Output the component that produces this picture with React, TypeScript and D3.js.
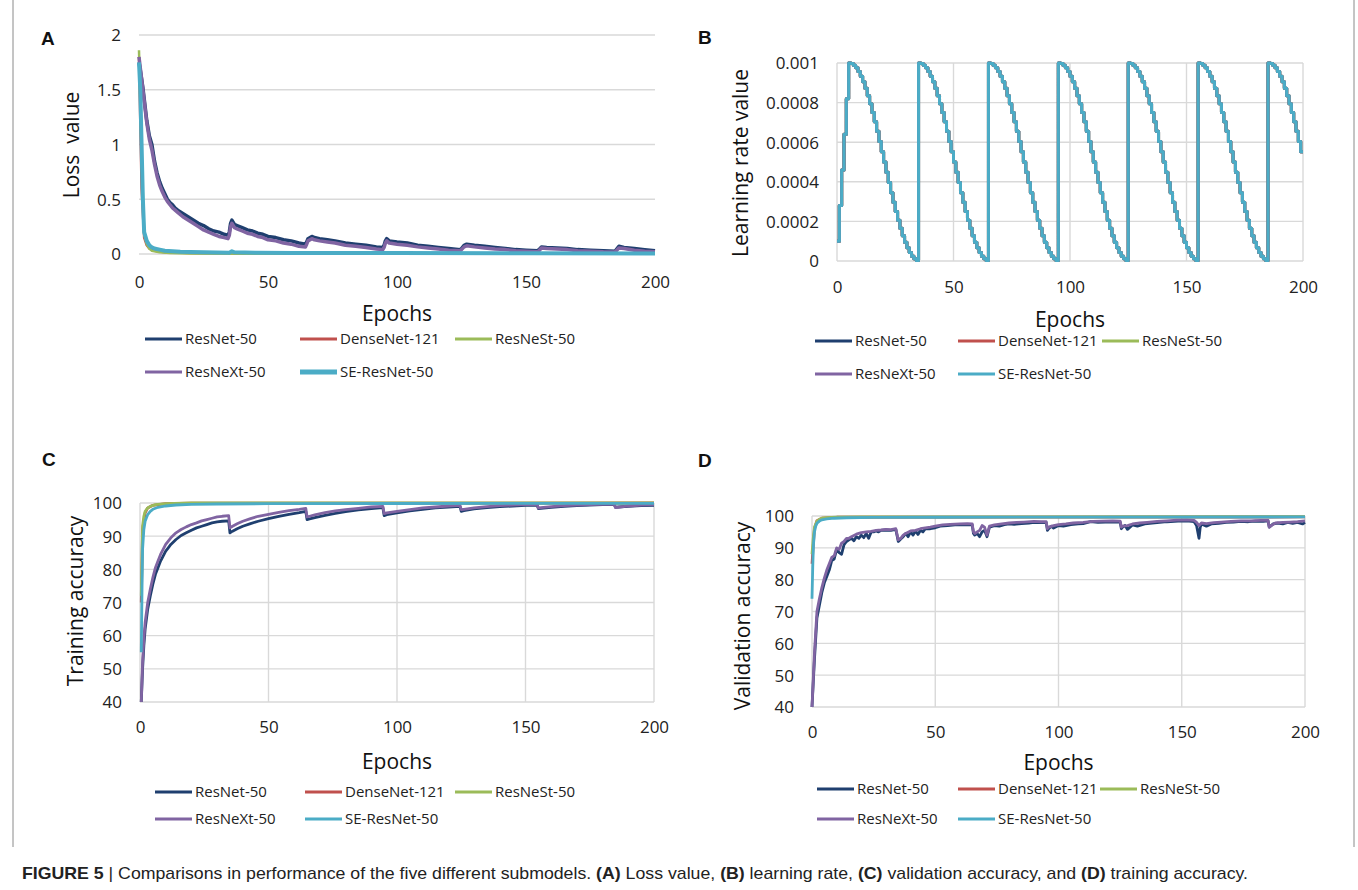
import { useEffect, useRef } from "react";
import * as d3 from "d3";

// series order follows the legend (and the drawing order)
const seriesNames = ["ResNet-50", "DenseNet-121", "ResNeSt-50", "ResNeXt-50", "SE-ResNet-50"];
const seriesColors = ["#1F3F6F", "#C0504D", "#9BBB59", "#8064A2", "#4BACC6"];
const epochTicks = [0, 50, 100, 150, 200];

// ---------- (A) loss value ----------
const lossTicks = [0, 0.5, 1, 1.5, 2];
const lossResNet = [[0,1.75],[0.5,1.68],[1,1.6],[1.5,1.52],[2,1.42],[3,1.22],[4,1.08],[5,1.0],[6,0.85],[7,0.74],[8,0.66],[9,0.6],[10,0.55],[11,0.5],[12,0.47],[13,0.45],[14,0.42],[15,0.4],[17,0.37],[19,0.34],[21,0.31],[23,0.28],[25,0.26],[27,0.23],[29,0.21],[31,0.2],[33,0.18],[34.5,0.17],[35,0.2],[35.5,0.28],[36,0.31],[37,0.27],[38,0.26],[40,0.24],[42,0.22],[44,0.21],[46,0.19],[48,0.18],[50,0.16],[53,0.15],[56,0.13],[59,0.12],[62,0.1],[64.5,0.09],[65,0.11],[65.5,0.14],[67,0.16],[68,0.15],[70,0.14],[73,0.13],[76,0.12],[80,0.1],[84,0.09],[88,0.08],[92,0.065],[94.5,0.06],[95,0.08],[95.5,0.12],[96,0.14],[97,0.12],[100,0.11],[104,0.1],[108,0.08],[112,0.07],[116,0.06],[120,0.05],[124.5,0.04],[125,0.05],[126,0.08],[127,0.09],[130,0.08],[134,0.07],[138,0.06],[142,0.05],[146,0.04],[150,0.035],[154.5,0.03],[155,0.04],[156,0.065],[158,0.06],[162,0.055],[166,0.05],[170,0.04],[175,0.035],[180,0.03],[184.5,0.025],[185,0.04],[186,0.07],[188,0.06],[192,0.05],[196,0.04],[200,0.03]];
const lossDenseNet = [[0,1.8],[1,0.6],[2,0.15],[3,0.08],[4,0.05],[6,0.03],[10,0.015],[20,0.008],[40,0.005],[100,0.003],[200,0.002]];
const lossResNeSt = [[0,1.86],[1,0.9],[2,0.18],[3,0.09],[4,0.05],[5,0.03],[8,0.015],[12,0.008],[20,0.005],[50,0.003],[200,0.002]];
const lossResNeXt = [[0,1.8],[0.5,1.7],[1,1.6],[1.5,1.5],[2,1.4],[3,1.2],[4,1.05],[5,0.95],[6,0.82],[7,0.71],[8,0.63],[9,0.57],[10,0.52],[11,0.48],[12,0.45],[13,0.42],[14,0.4],[15,0.38],[17,0.34],[19,0.31],[21,0.28],[23,0.25],[25,0.22],[27,0.2],[29,0.18],[31,0.16],[33,0.15],[34.5,0.14],[35,0.17],[35.5,0.25],[36,0.28],[37,0.24],[38,0.23],[40,0.21],[42,0.19],[44,0.18],[46,0.16],[48,0.15],[50,0.13],[53,0.12],[56,0.1],[59,0.09],[62,0.07],[64.5,0.065],[65,0.09],[65.5,0.12],[67,0.14],[68,0.13],[70,0.12],[73,0.11],[76,0.1],[80,0.08],[84,0.07],[88,0.06],[92,0.045],[94.5,0.04],[95,0.06],[95.5,0.1],[96,0.12],[97,0.1],[100,0.09],[104,0.08],[108,0.065],[112,0.055],[116,0.045],[120,0.035],[124.5,0.03],[125,0.04],[126,0.065],[127,0.075],[130,0.065],[134,0.055],[138,0.045],[142,0.04],[146,0.03],[150,0.025],[154.5,0.02],[155,0.03],[156,0.055],[158,0.05],[162,0.045],[166,0.04],[170,0.03],[175,0.025],[180,0.02],[184.5,0.018],[185,0.03],[186,0.055],[188,0.05],[192,0.035],[196,0.025],[200,0.02]];
const lossSEResNet = [[0,1.75],[0.5,1.5],[1,1.0],[1.5,0.5],[2,0.2],[3,0.12],[4,0.08],[5,0.06],[6,0.05],[8,0.04],[10,0.03],[13,0.025],[16,0.02],[20,0.018],[25,0.015],[30,0.013],[35,0.012],[36,0.025],[37,0.015],[45,0.012],[60,0.01],[100,0.008],[150,0.006],[200,0.005]];

// ---------- (B) learning rate ----------
const lrTicks = [0, 0.0002, 0.0004, 0.0006, 0.0008, 0.001];
const lrWarmup = [0.0001, 0.00028, 0.00046, 0.00064, 0.00082];
const lrCycle = [0.001,0.000997,0.000989,0.000976,0.000957,0.000933,0.000905,0.000872,0.000835,0.000794,0.00075,0.000703,0.000655,0.000604,0.000552,0.0005,0.000448,0.000396,0.000345,0.000297,0.00025,0.000206,0.000165,0.000128,0.000095,0.000067,0.000043,0.000024,0.000011,0.000003];
const lrRestarts = [5, 35, 65, 95, 125, 155, 185];

// ---------- (C) training accuracy ----------
const accTicks = [40, 50, 60, 70, 80, 90, 100];
const trainResNet = [[0.5,40],[1,50],[1.5,57],[2,62],[3,68],[4,72],[5,75.5],[6,78.5],[7,80.5],[8,82.5],[9,84],[10,85.5],[11,86.5],[12,87.5],[14,89],[16,90.2],[18,91],[20,91.8],[22,92.5],[24,93],[26,93.5],[28,94],[30,94.3],[32,94.5],[34.5,94.6],[35,91],[36,91.5],[38,92.3],[40,93],[43,93.8],[46,94.5],[50,95.3],[54,96],[58,96.6],[62,97.1],[64.5,97.5],[65,95],[66,95.2],[68,95.6],[72,96.3],[76,96.9],[80,97.4],[85,97.9],[90,98.3],[94.5,98.6],[95,96.2],[96,96.5],[100,97],[105,97.6],[110,98.1],[115,98.5],[120,98.8],[124.5,99],[125,97.5],[126,97.7],[130,98.2],[135,98.6],[140,98.9],[145,99.1],[150,99.3],[154.5,99.4],[155,98.3],[156,98.4],[160,98.7],[165,99],[170,99.2],[175,99.4],[180,99.5],[184.5,99.6],[185,98.7],[186,98.8],[190,99],[195,99.2],[200,99.3]];
const trainDenseNet = [[0.5,70],[1,92],[2,97],[3,98.5],[5,99.3],[10,99.8],[20,99.95],[200,100]];
const trainResNeSt = [[0.5,72],[1,93],[1.5,96],[2,97.5],[3,98.5],[4,99],[6,99.5],[10,99.8],[20,100],[200,100]];
const trainResNeXt = [[0.5,40],[1,52],[1.5,59],[2,64],[3,70],[4,74],[5,77.5],[6,80.5],[7,82.5],[8,84.5],[9,86],[10,87.5],[11,88.5],[12,89.5],[14,91],[16,92],[18,92.8],[20,93.5],[22,94],[24,94.6],[26,95],[28,95.4],[30,95.8],[32,96],[34.5,96.2],[35,92.5],[36,93],[38,93.8],[40,94.5],[43,95.3],[46,96],[50,96.6],[54,97.2],[58,97.7],[62,98.1],[64.5,98.4],[65,95.8],[66,96],[68,96.4],[72,97.1],[76,97.6],[80,98],[85,98.4],[90,98.8],[94.5,99],[95,96.8],[96,97],[100,97.5],[105,98],[110,98.5],[115,98.8],[120,99.1],[124.5,99.3],[125,98],[126,98.1],[130,98.5],[135,98.9],[140,99.2],[145,99.4],[150,99.5],[154.5,99.6],[155,98.5],[156,98.6],[160,98.9],[165,99.2],[170,99.4],[175,99.5],[180,99.6],[184.5,99.7],[185,98.6],[186,98.7],[190,99.1],[195,99.4],[200,99.5]];
const trainSEResNet = [[0.5,55],[0.8,75],[1,86],[1.5,92],[2,94.5],[3,96.5],[4,97.5],[5,98.1],[7,98.7],[10,99.1],[14,99.4],[20,99.6],[30,99.7],[50,99.8],[100,99.85],[200,99.9]];

// ---------- (D) validation accuracy ----------
const valResNet = [[0,40],[1,55],[2,68],[3,72],[4,76],[5,79],[6,81],[7,83],[8,86],[9,86.5],[10,89.5],[11,88.5],[12,88],[13,91],[14,92],[15,92.5],[16,93],[17,92.2],[18,93.5],[19,93],[20,94],[21,93.2],[22,94.5],[23,93],[24,95],[25,95],[26,95.3],[27,95],[28,95.5],[30,95.6],[32,95.5],[34,95.8],[35,92],[36,92.8],[37,93.5],[38,94.5],[39,93.5],[40,95],[41,94],[42,95.3],[43,94.2],[44,95.5],[45,95],[46,96],[48,96],[50,96.3],[52,96.8],[55,97],[58,97.2],[60,97.2],[63,97.3],[65,97.2],[65.5,94.5],[66,94],[67,94.5],[68,93.5],[69,95],[70,95.5],[71,93.5],[72,96.5],[74,97],[76,96.8],[78,97.3],[80,97.5],[82,97.4],[85,97.6],[88,97.8],[90,98],[92,97.9],[95,98],[95.5,95.5],[96,96],[97,96.8],[98,96.2],[100,97],[102,96.8],[105,97.3],[108,97.5],[110,97.6],[113,98.2],[116,98],[119,98.1],[122,98.2],[125,98.1],[125.5,96],[126,96.5],[127,97],[128,95.8],[130,97.2],[132,96.8],[135,97.5],[138,97.8],[141,98],[144,98.2],[147,98.3],[150,98.5],[153,98.4],[155,98.2],[156,97],[157,93],[157.5,96.5],[158,97.5],[160,96.8],[162,97.5],[165,97.7],[168,98],[171,98.1],[174,98.3],[177,98.2],[180,98.4],[183,98.3],[185,98.5],[185.5,96.5],[186,96.8],[187,97.5],[189,97.8],[191,97.5],[193,98],[195,97.7],[197,98],[199,97.5],[200,98]];
const valDenseNet = [[0,85],[1,96],[2,98.5],[4,99.3],[10,99.6],[200,99.7]];
const valResNeSt = [[0,88],[0.5,93],[1,96.5],[2,98.3],[3,99],[4,99.3],[6,99.5],[10,99.6],[20,99.7],[200,99.8]];
const valResNeXt = [[0,40],[1,57],[2,70],[3,74],[4,77.5],[5,80.5],[6,83],[7,85],[8,87],[9,87.5],[10,90],[11,89.5],[12,91.5],[13,92],[14,93],[15,93],[16,93.5],[18,94.3],[20,94.8],[22,95],[24,95.2],[26,95.5],[28,95.6],[30,95.8],[32,95.7],[34,96],[35,92.5],[36,93],[37,94],[38,94.5],[40,95.3],[42,95.5],[44,96],[46,96.3],[48,96.5],[50,96.8],[53,97.2],[56,97.4],[60,97.5],[63,97.6],[65,97.5],[65.5,95],[66,94.5],[68,95.5],[69,97],[70,96.5],[71,94],[72,96.8],[74,97.2],[77,97.5],[80,97.8],[83,98],[86,98.1],[90,98.3],[93,98.2],[95,98.2],[95.5,96],[96,96.5],[98,97],[100,97.3],[103,97.5],[106,97.8],[110,98],[114,98.3],[118,98.4],[122,98.5],[125,98.4],[125.5,96.5],[126,96.8],[128,97],[130,97.5],[133,97.8],[136,98],[140,98.3],[144,98.5],[148,98.7],[152,98.8],[155,98.6],[156,98],[157,97],[158,97.8],[160,97.6],[163,97.9],[166,98.1],[170,98.3],[174,98.5],[178,98.5],[182,98.6],[185,98.6],[185.5,96.5],[186,96.8],[188,97.8],[191,98],[194,98.1],[197,98.2],[200,98.5]];
const valSEResNet = [[0,74],[0.3,84],[0.6,91],[1,95],[1.5,96.8],[2,97.7],[3,98.4],[4,98.8],[6,99.1],[9,99.3],[14,99.45],[25,99.55],[50,99.6],[100,99.65],[200,99.7]];

const FONT = "'Open Sans', 'Noto Sans', sans-serif";

function buildLr() {
    const pts = lrWarmup.map((v, i) => [i, v]);
    lrRestarts.forEach(r => {
        lrCycle.forEach((v, i) => {
            if (r + i < 200) pts.push([r + i, v]);
        });
    });
    pts.push([200, pts[pts.length - 1][1]]);
    return pts;
}

function drawPanel(svg, p) {
    const x = d3.scaleLinear().domain([0, 200]).range([p.x0, p.x1]);
    const y = d3.scaleLinear().domain(p.yDomain).range([p.yBot, p.yTop]);
    const g = svg.append("g");

    // grid
    g.append("g").selectAll("line").data(p.yTicks).join("line")
        .attr("x1", p.x0).attr("x2", p.x1)
        .attr("y1", d => y(d)).attr("y2", d => y(d))
        .attr("stroke", "#D9D9D9").attr("stroke-width", 1.4);
    if (p.vGrid) {
        g.append("g").selectAll("line").data(epochTicks).join("line")
            .attr("x1", d => x(d)).attr("x2", d => x(d))
            .attr("y1", p.yTop).attr("y2", p.yBot)
            .attr("stroke", "#D9D9D9").attr("stroke-width", 1.4);
    }

    // axes, labels only
    const xAxis = g.append("g")
        .attr("transform", `translate(0,${p.yBot})`)
        .call(d3.axisBottom(x).tickValues(epochTicks).tickSize(0).tickFormat(d3.format("d")));
    xAxis.select(".domain").remove();
    xAxis.selectAll("text")
        .attr("y", p.xLabelY - p.yBot).attr("dy", "0.35em")
        .style("font-family", FONT).style("font-size", "17px").attr("fill", "#222");

    const yAxis = g.append("g")
        .attr("transform", `translate(${p.x0},0)`)
        .call(d3.axisLeft(y).tickValues(p.yTicks).tickSize(0).tickPadding(18).tickFormat(p.yFormat));
    yAxis.select(".domain").remove();
    yAxis.selectAll("text")
        .attr("dy", "0.35em")
        .style("font-family", FONT).style("font-size", "17px").attr("fill", "#222");

    // series
    const line = d3.line().x(d => x(d[0])).y(d => y(d[1])).curve(p.curve || d3.curveLinear);
    p.series.forEach((data, i) => {
        g.append("path")
            .attr("d", line(data))
            .attr("fill", "none")
            .attr("stroke", seriesColors[i])
            .attr("stroke-width", p.widths[i])
            .attr("stroke-linejoin", "round");
    });

    // titles
    g.append("text")
        .attr("x", (p.x0 + p.x1) / 2).attr("y", p.epochsY).attr("dy", "0.35em")
        .attr("text-anchor", "middle")
        .style("font-family", FONT).style("font-size", "21px").attr("fill", "#111")
        .text("Epochs");
    g.append("text")
        .attr("transform", `translate(${p.yTitleX},${p.yTitleY}) rotate(-90)`)
        .attr("text-anchor", "middle").attr("dy", "0.35em")
        .style("font-family", FONT).style("font-size", "21px").attr("fill", "#111")
        .style("white-space", "pre")
        .text(p.yTitle);
    g.append("text")
        .attr("x", p.letterX).attr("y", p.letterY)
        .style("font-family", "'Liberation Sans', Arial, sans-serif").style("font-size", "19px")
        .style("font-weight", "bold").attr("fill", "#111")
        .text(p.letter);

    // legend: 3 items on the first row, 2 on the second
    seriesNames.forEach((name, i) => {
        const col = i < 3 ? i : i - 3;
        const row = i < 3 ? 0 : 1;
        const lx = p.legendX + p.legendCols[col];
        const ly = p.legendY + row * p.legendDy;
        g.append("line")
            .attr("x1", lx).attr("x2", lx + 37)
            .attr("y1", ly).attr("y2", ly)
            .attr("stroke", seriesColors[i])
            .attr("stroke-width", p.legendWidths[i]);
        g.append("text")
            .attr("x", lx + 40).attr("y", ly).attr("dy", "0.35em")
            .style("font-family", FONT).style("font-size", "15px").attr("fill", "#222")
            .text(name);
    });
}

export default function App() {
    const svgRef = useRef(null);

    useEffect(() => {
        const svg = d3.select(svgRef.current);
        svg.selectAll("*").remove();

        svg.append("rect").attr("width", 1358).attr("height", 890).attr("fill", "#fff");
        // figure frame
        svg.append("line").attr("x1", 13).attr("x2", 13).attr("y1", 0).attr("y2", 847).attr("stroke", "#8a8a8a");
        svg.append("line").attr("x1", 1354).attr("x2", 1354).attr("y1", 0).attr("y2", 847).attr("stroke", "#8a8a8a");

        const lrSeries = buildLr();

        drawPanel(svg, {
            x0: 139, x1: 655, yTop: 35, yBot: 254, yDomain: [0, 2], yTicks: lossTicks,
            yFormat: d3.format(""), vGrid: false,
            series: [lossResNet, lossDenseNet, lossResNeSt, lossResNeXt, lossSEResNet],
            widths: [3.5, 2.5, 2.5, 3.5, 4],
            xLabelY: 282, epochsY: 314, yTitle: "Loss  value", yTitleX: 72, yTitleY: 145,
            letter: "A", letterX: 41, letterY: 45,
            legendX: 145, legendY: 339, legendCols: [0, 155, 310], legendDy: 33,
            legendWidths: [3, 3, 3, 3, 5],
        });

        drawPanel(svg, {
            x0: 837, x1: 1303, yTop: 63, yBot: 261, yDomain: [0, 0.001], yTicks: lrTicks,
            yFormat: d => (d === 0 ? "0" : String(+d.toFixed(4))), vGrid: true,
            series: [lrSeries, lrSeries, lrSeries, lrSeries, lrSeries],
            widths: [3, 3, 3, 3, 3], curve: d3.curveStepAfter,
            xLabelY: 287, epochsY: 320, yTitle: "Learning rate value", yTitleX: 741, yTitleY: 163,
            letter: "B", letterX: 698, letterY: 44,
            legendX: 815, legendY: 341, legendCols: [0, 143, 287], legendDy: 33,
            legendWidths: [3, 3, 3, 3, 3],
        });

        drawPanel(svg, {
            x0: 140, x1: 654, yTop: 503, yBot: 702, yDomain: [40, 100], yTicks: accTicks,
            yFormat: d3.format("d"), vGrid: true,
            series: [trainResNet, trainDenseNet, trainResNeSt, trainResNeXt, trainSEResNet],
            widths: [2.8, 2.8, 2.8, 2.8, 2.8],
            xLabelY: 727, epochsY: 762, yTitle: "Training accuracy", yTitleX: 76, yTitleY: 601,
            letter: "C", letterX: 42, letterY: 466,
            legendX: 155, legendY: 792, legendCols: [0, 150, 300], legendDy: 27,
            legendWidths: [3, 3, 3, 3, 3],
        });

        drawPanel(svg, {
            x0: 812, x1: 1305, yTop: 516, yBot: 707, yDomain: [40, 100], yTicks: accTicks,
            yFormat: d3.format("d"), vGrid: true,
            series: [valResNet, valDenseNet, valResNeSt, valResNeXt, valSEResNet],
            widths: [2.8, 2.8, 2.8, 2.8, 2.8],
            xLabelY: 732, epochsY: 763, yTitle: "Validation accuracy", yTitleX: 743, yTitleY: 616,
            letter: "D", letterX: 698, letterY: 467,
            legendX: 817, legendY: 789, legendCols: [0, 141, 283], legendDy: 30,
            legendWidths: [3, 3, 3, 3, 3],
        });

        // caption
        const cap = svg.append("text")
            .attr("x", 22).attr("y", 879)
            .attr("textLength", 1226).attr("lengthAdjust", "spacingAndGlyphs")
            .style("font-family", "'Liberation Sans', Arial, sans-serif").style("font-size", "17px")
            .attr("fill", "#222");
        const parts = [
            ["FIGURE 5", true], [" | Comparisons in performance of the five different submodels. ", false],
            ["(A)", true], [" Loss value, ", false], ["(B)", true], [" learning rate, ", false],
            ["(C)", true], [" validation accuracy, and ", false], ["(D)", true], [" training accuracy.", false],
        ];
        parts.forEach(([t, b]) => {
            cap.append("tspan").style("font-weight", b ? "bold" : "normal").style("white-space", "pre").text(t);
        });
    }, []);

    return (
        <svg ref={svgRef} width={1358} height={890}
            style={{ position: "absolute", left: 0, top: 0, display: "block" }} />
    );
}
